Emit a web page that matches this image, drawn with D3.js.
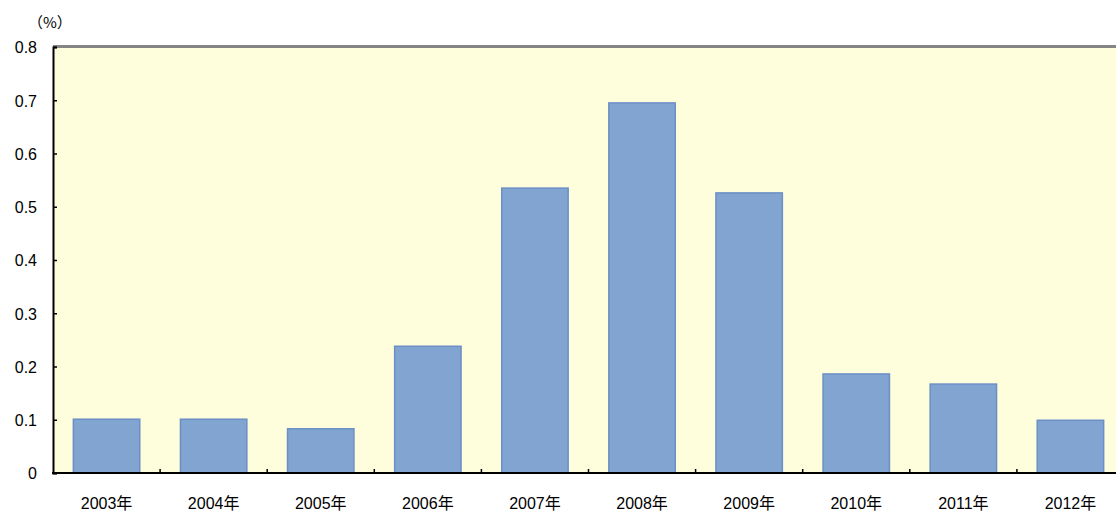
<!DOCTYPE html>
<html><head><meta charset="utf-8">
<script src="https://cdn.jsdelivr.net/npm/d3@7"></script>
<style>body{margin:0;background:#fff;}svg{display:block;}text{font-family:"Liberation Sans","Noto Sans CJK JP",sans-serif;}</style>
</head><body>
<svg id="c" width="1116" height="515"></svg>
<script>
const categories = ["2003年","2004年","2005年","2006年","2007年","2008年","2009年","2010年","2011年","2012年"];
const values = [0.101, 0.101, 0.083, 0.238, 0.535, 0.695, 0.526, 0.186, 0.167, 0.099];
const yTicks = [0, 0.1, 0.2, 0.3, 0.4, 0.5, 0.6, 0.7, 0.8];
const yTickLabels = ["0","0.1","0.2","0.3","0.4","0.5","0.6","0.7","0.8"];
const unitLabel = "（%）";

(function(){
const svg = d3.select("#c");
const mL = 53, mT = 47, mB = 473, mR = 1124;
const x = d3.scaleBand().domain(categories).range([mL, mR]).paddingInner(0.38).paddingOuter(0.19);
const xb = d3.scaleBand().domain(categories).range([mL, mR]);
const y = d3.scaleLinear().domain([0, 0.8]).range([mB, mT]);

svg.append("rect").attr("x", mL).attr("y", mT).attr("width", mR - mL).attr("height", mB - mT).attr("fill", "#FEFDDC");
svg.append("line").attr("x1", mL).attr("x2", 1116).attr("y1", mT - 0.5).attr("y2", mT - 0.5).attr("stroke", "#858585").attr("stroke-width", 3);

svg.selectAll("rect.bar").data(values).join("rect").attr("class", "bar")
  .attr("x", (d, i) => x(categories[i]))
  .attr("width", x.bandwidth())
  .attr("y", d => y(d))
  .attr("height", d => y(0) - y(d))
  .attr("fill", "#82A4D0").attr("stroke", "#6B8FC6").attr("stroke-width", 1.5);

const yAxis = d3.axisRight(y).tickValues(yTicks).tickSize(4).tickFormat((d, i) => yTickLabels[i]);
const yg = svg.append("g").attr("transform", `translate(${mL},0)`).call(yAxis);
yg.select(".domain").attr("stroke", "#000").attr("stroke-width", 2);
yg.selectAll(".tick line").attr("stroke", "#000").attr("stroke-width", 1.5);
yg.selectAll(".tick text").attr("x", -16).attr("dy", "0.36em").attr("text-anchor", "end").attr("font-size", 16).attr("fill", "#000");

svg.append("line").attr("x1", mL - 1).attr("x2", 1116).attr("y1", mB).attr("y2", mB).attr("stroke", "#000").attr("stroke-width", 2);
svg.selectAll("line.xt").data(categories.slice(1)).join("line").attr("class", "xt")
  .attr("x1", d => xb(d)).attr("x2", d => xb(d)).attr("y1", mB).attr("y2", mB - 4)
  .attr("stroke", "#000").attr("stroke-width", 1.5);
svg.selectAll("text.xl").data(categories).join("text").attr("class", "xl")
  .attr("x", d => xb(d) + xb.bandwidth() / 2).attr("y", 509)
  .attr("text-anchor", "middle").attr("font-size", 16).attr("fill", "#000").text(d => d);

svg.append("text").attr("x", 28).attr("y", 28).attr("font-size", 15)
  .style("font-family", "'Noto Sans CJK JP', sans-serif").attr("fill", "#000").text(unitLabel);
})();
</script>
</body></html>
